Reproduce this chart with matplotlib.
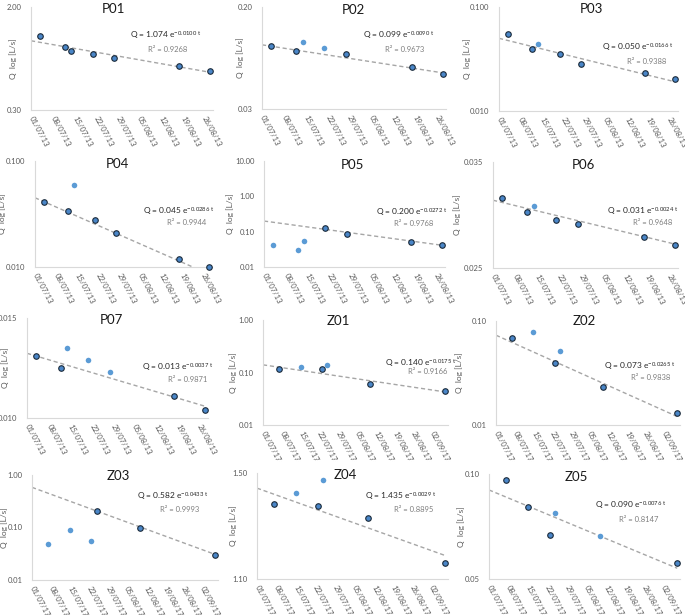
import numpy as np
import matplotlib
matplotlib.use('Agg')
import matplotlib.pyplot as plt
from matplotlib.ticker import NullLocator

plt.rcParams['font.family'] = ['Lato', 'DejaVu Sans']

# sampling dates
dates_2013 = ['2013-07-04', '2013-07-12', '2013-07-14', '2013-07-21', '2013-07-28', '2013-08-18', '2013-08-28']
dates_2017 = ['2017-07-07', '2017-07-15', '2017-07-23', '2017-07-25', '2017-08-10', '2017-09-07']

# discharge values [L/s]
p01_q = [1.17, 0.96, 0.89, 0.84, 0.78, 0.67, 0.62]
p02_q = [0.097, 0.0886, 0.1045, 0.094, 0.084, 0.066, 0.057]
p03_q = [0.0547, 0.0396, 0.0439, 0.0352, 0.0282, 0.0231, 0.0201]
p04_q = [0.0410, 0.0340, 0.0589, 0.0280, 0.0210, 0.0120, 0.0100]
p05_q = [0.0412, 0.0304, 0.0536, 0.128, 0.0883, 0.0513, 0.0430]
p06_q = [0.03125, 0.02991, 0.03040, 0.02916, 0.02876, 0.02761, 0.02689]
p07_q = [0.01284, 0.01225, 0.01326, 0.01265, 0.01204, 0.01093, 0.01033]
z01_q = [0.118, 0.127, 0.115, 0.141, 0.0593, 0.0435]
z02_q = [0.0687, 0.0779, 0.0393, 0.0512, 0.0230, 0.0129]
z03_q = [0.0490, 0.0883, 0.0551, 0.207, 0.0978, 0.0302]
z04_q = [1.370, 1.413, 1.360, 1.468, 1.314, 1.152]
z05_q = [0.0961, 0.0804, 0.0670, 0.0772, 0.0665, 0.0557]

# 1 = used in the recession fit, 0 = excluded
p01_fit = [1, 1, 1, 1, 1, 1, 1]
p02_fit = [1, 1, 0, 0, 1, 1, 1]
p03_fit = [1, 1, 0, 1, 1, 1, 1]
p04_fit = [1, 1, 0, 1, 1, 1, 1]
p05_fit = [0, 0, 0, 1, 1, 1, 1]
p06_fit = [1, 1, 0, 1, 1, 1, 1]
p07_fit = [1, 1, 0, 0, 0, 1, 1]
z01_fit = [1, 0, 1, 0, 1, 1]
z02_fit = [1, 0, 1, 0, 1, 1]
z03_fit = [0, 0, 0, 1, 1, 1]
z04_fit = [1, 0, 1, 0, 1, 1]
z05_fit = [1, 1, 1, 0, 0, 1]

names = ['P01', 'P02', 'P03', 'P04', 'P05', 'P06', 'P07', 'Z01', 'Z02', 'Z03', 'Z04', 'Z05']
coef_a = [1.074, 0.099, 0.050, 0.045, 0.200, 0.031, 0.013, 0.140, 0.073, 0.582, 1.435, 0.090]
coef_b = [-0.0100, -0.0090, -0.0166, -0.0286, -0.0272, -0.0024, -0.0037,
          -0.0175, -0.0265, -0.0433, -0.0029, -0.0076]
r2 = [0.9268, 0.9673, 0.9388, 0.9944, 0.9768, 0.9648, 0.9871,
      0.9166, 0.9838, 0.9993, 0.8895, 0.8147]
y_ticks = [[0.30, 2.00], [0.03, 0.20], [0.010, 0.100], [0.010, 0.100], [0.01, 0.10, 1.00, 10.00],
           [0.025, 0.035], [0.010, 0.015], [0.01, 0.10, 1.00], [0.01, 0.10], [0.01, 0.10, 1.00],
           [1.10, 1.50], [0.05, 0.10]]
y_fmt = ['%.2f', '%.2f', '%.3f', '%.3f', '%.2f', '%.3f', '%.3f', '%.2f', '%.2f', '%.2f', '%.2f', '%.2f']

series_q = [p01_q, p02_q, p03_q, p04_q, p05_q, p06_q, p07_q, z01_q, z02_q, z03_q, z04_q, z05_q]
series_fit = [p01_fit, p02_fit, p03_fit, p04_fit, p05_fit, p06_fit, p07_fit,
              z01_fit, z02_fit, z03_fit, z04_fit, z05_fit]

# layout in pixels: axes (left, top, right, bottom), title, ylabel x, equation, r2
W, H = 685, 615
boxes = [(31, 7, 213, 110), (262, 7, 446, 109), (499, 7, 678, 111),
         (35, 161, 212, 267), (264, 161, 445, 267), (493, 162, 678, 268),
         (27, 318, 208, 418), (263, 320, 448, 425), (496, 321, 680, 425),
         (32, 475, 218, 580), (257, 473, 448, 579), (489, 474, 680, 579)]
title_xy = [(113, 9), (353, 10), (591, 9), (117, 164), (352, 165), (583, 165),
            (111, 320), (338, 321), (584, 321), (118, 476), (345, 475), (576, 477)]
ylab_x = [17, 244, 471, 6, 234, 461, 9, 237, 463, 8, 237, 465]
eq_xy = [(130, 35), (363, 35), (602, 47), (143, 211), (376, 212), (607, 211),
         (142, 367), (385, 363), (604, 366), (137, 496), (365, 496), (595, 505)]
r2_xy = [(148, 49), (385, 50), (627, 61), (167, 223), (394, 224), (633, 223),
         (168, 380), (408, 372), (631, 378), (160, 509), (394, 510), (619, 520)]

fig = plt.figure(figsize=(6.85, 6.15), dpi=100)
gray = '#595959'

for i, name in enumerate(names):
    l, t, r, b = boxes[i]
    ax = fig.add_axes([l / W, 1 - b / H, (r - l) / W, (b - t) / H])
    if name.startswith('P'):
        d = np.array(dates_2013, dtype='datetime64[D]')
        d0, d1, n_ticks = np.datetime64('2013-07-01'), np.datetime64('2013-08-29'), 9
    else:
        d = np.array(dates_2017, dtype='datetime64[D]')
        d0, d1, n_ticks = np.datetime64('2017-07-01'), np.datetime64('2017-09-08'), 10
    q = np.array(series_q[i])
    used = np.array(series_fit[i]) == 1

    # trend line from the fitted equation, t in days from start of axis
    t_end = (d[-1] - d0).astype(int)
    ax.plot([d0, d[-1]], [coef_a[i], coef_a[i] * np.exp(coef_b[i] * t_end)],
            ls=(0, (3, 2)), color='#A6A6A6', lw=1, zorder=1)
    ax.scatter(d[~used], q[~used], s=16, color='#5B9BD5', lw=0, zorder=3, clip_on=False)
    ax.scatter(d[used], q[used], s=16, color='#4A86C8', edgecolor='#1B2A3A', lw=0.8,
               zorder=4, clip_on=False)

    ax.set_yscale('log')
    yt = y_ticks[i]
    ax.set_ylim(yt[0], yt[-1])
    ax.set_yticks(yt)
    ax.set_yticklabels([y_fmt[i] % v for v in yt])
    ax.yaxis.set_minor_locator(NullLocator())

    xt = d0 + np.arange(n_ticks) * 7
    ax.set_xlim(d0, d1)
    ax.set_xticks(xt)
    ax.set_xticklabels([str(x)[8:10] + '/' + str(x)[5:7] + '/' + str(x)[2:4] for x in xt])
    ax.tick_params(length=0, labelsize=5.5, labelcolor=gray)
    ax.tick_params(axis='y', pad=7)
    ax.tick_params(axis='x', pad=5)
    for lbl in ax.get_xticklabels():
        lbl.set_rotation(-62)
        lbl.set_ha('left')
        lbl.set_va('center')
        lbl.set_rotation_mode('anchor')

    for s in ['top', 'right']:
        ax.spines[s].set_visible(False)
    for s in ['left', 'bottom']:
        ax.spines[s].set_color('#D9D9D9')
        ax.spines[s].set_linewidth(0.8)

    ax.set_ylabel('Q  log [L/s]', fontsize=6, color=gray)
    ax.yaxis.set_label_coords(-(l - ylab_x[i]) / (r - l), 0.5)

    fig.text(title_xy[i][0] / W, 1 - title_xy[i][1] / H, name, fontsize=9.5,
             color='#1a1a1a', ha='center', va='center')
    ex, ey = eq_xy[i]
    fig.text(ex / W, 1 - ey / H,
             'Q = %.3f $\\mathregular{e^{%.4f\\ t}}$' % (coef_a[i], coef_b[i]),
             fontsize=6, color='#262626', ha='left', va='center')
    rx, ry = r2_xy[i]
    fig.text(rx / W, 1 - ry / H, 'R² = %.4f' % r2[i], fontsize=5.5, color='#7F7F7F',
             ha='left', va='center')

fig.savefig('out.png', dpi=100)
